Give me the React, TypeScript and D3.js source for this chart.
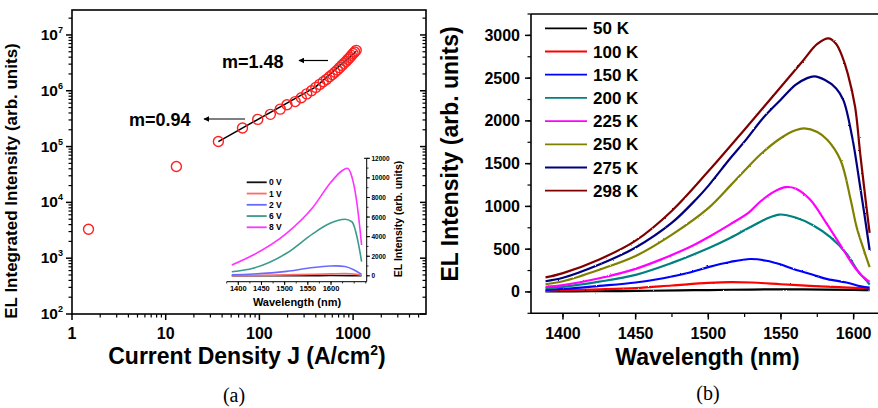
import React from "react";
import * as d3 from "d3";

// ---------- Panel (a): integrated EL vs current density ----------
const J_DENSITY = [1.5, 13, 36.5, 66, 96, 131, 167, 197, 241, 280, 320, 360, 400, 440, 480, 520, 560, 600, 640, 680, 720, 760, 800, 840, 880, 920, 960, 1000, 1040, 1080];
const EL_INTEGRATED = [3.3e3, 4.4e4, 1.23e5, 2.15e5, 3.07e5, 3.78e5, 4.69e5, 5.6e5, 6.4e5, 7.5e5, 8.8e5, 1.0e6, 1.15e6, 1.3e6, 1.45e6, 1.6e6, 1.78e6, 1.95e6, 2.15e6, 2.35e6, 2.6e6, 2.85e6, 3.1e6, 3.35e6, 3.65e6, 3.95e6, 4.3e6, 4.65e6, 4.95e6, 5.3e6];
// power-law fits (slopes 0.94 and 1.48), endpoints in data units
const FIT_LOW_J = [36.5, 396];
const FIT_LOW_I = [1.23e5, 1.16e6];
const FIT_HIGH_J = [396, 1080];
const FIT_HIGH_I = [1.16e6, 5.1e6];
const Y_DECADES = [2, 3, 4, 5, 6, 7];
const X_DECADES = [1, 10, 100, 1000];

// ---------- Inset: EL spectra at several biases ----------
const INSET_SERIES = [
  { label: "0 V", color: "#111111", w: [1386, 1450, 1500, 1560, 1600, 1640, 1666], v: [0, 5, 10, 20, 30, 25, 10] },
  { label: "1 V", color: "#ff6a6a", w: [1386, 1450, 1530, 1600, 1630, 1655, 1666], v: [20, 50, 120, 200, 230, 150, 60] },
  { label: "2 V", color: "#6a6aff", w: [1386, 1432, 1504, 1562, 1598, 1611, 1630, 1650, 1666], v: [100, 180, 450, 850, 1000, 1020, 950, 600, 150] },
  { label: "6 V", color: "#3a9a8c", w: [1386, 1432, 1504, 1562, 1598, 1630, 1645, 1659, 1666], v: [420, 770, 2300, 4340, 5360, 5770, 5520, 3320, 1440] },
  { label: "8 V", color: "#ff33ff", w: [1386, 1432, 1504, 1562, 1598, 1623, 1635, 1645, 1655, 1662, 1666], v: [1100, 2120, 4340, 7060, 9450, 10700, 10980, 10120, 7740, 5010, 3150] },
];
const INSET_X_TICKS = [1400, 1450, 1500, 1550, 1600];
const INSET_Y_TICKS = [0, 2000, 4000, 6000, 8000, 10000, 12000];

// ---------- Panel (b): EL spectra vs temperature ----------
const TEMP_SERIES = [
  { label: "50 K", color: "#000000", w: [1388, 1420, 1450, 1480, 1500, 1530, 1550, 1580, 1600, 1611], v: [5, 8, 12, 18, 22, 28, 30, 28, 25, 20] },
  { label: "100 K", color: "#ff0000", w: [1388, 1400, 1425, 1450, 1475, 1500, 1515, 1530, 1550, 1570, 1590, 1605, 1611], v: [10, 20, 30, 45, 75, 105, 115, 110, 90, 70, 55, 45, 40] },
  { label: "150 K", color: "#0000ff", w: [1388, 1400, 1425, 1450, 1469, 1488, 1500, 1515, 1529, 1540, 1550, 1559, 1572, 1582, 1595, 1605, 1611], v: [25, 35, 70, 110, 160, 230, 290, 350, 385, 365, 320, 265, 200, 150, 110, 65, 50] },
  { label: "200 K", color: "#008080", w: [1388, 1400, 1425, 1450, 1475, 1500, 1515, 1528, 1540, 1549, 1560, 1572, 1584, 1595, 1604, 1609, 1611], v: [45, 60, 120, 200, 340, 510, 630, 750, 855, 905, 870, 780, 640, 450, 220, 130, 85] },
  { label: "225 K", color: "#ff00ff", w: [1388, 1400, 1425, 1450, 1469, 1488, 1500, 1515, 1528, 1536, 1545, 1553, 1560, 1570, 1581, 1593, 1602, 1609, 1611], v: [60, 80, 160, 270, 390, 530, 640, 790, 930, 1060, 1170, 1225, 1210, 1080, 810, 490, 260, 140, 120] },
  { label: "250 K", color: "#808000", w: [1388, 1400, 1425, 1450, 1475, 1500, 1515, 1525, 1536, 1550, 1560, 1566, 1575, 1582, 1591, 1598, 1602, 1607, 1611], v: [90, 125, 260, 420, 670, 980, 1240, 1420, 1610, 1800, 1890, 1912, 1870, 1776, 1540, 1075, 763, 491, 290] },
  { label: "275 K", color: "#000080", w: [1388, 1400, 1425, 1450, 1475, 1492, 1500, 1515, 1525, 1538, 1550, 1560, 1568, 1573, 1580, 1588, 1593, 1599, 1604.5, 1608, 1611], v: [125, 165, 320, 520, 810, 1090, 1240, 1560, 1760, 2040, 2250, 2420, 2500, 2520, 2480, 2380, 2240, 1810, 1230, 840, 490] },
  { label: "298 K", color: "#800000", w: [1388, 1400, 1425, 1450, 1475, 1500, 1525, 1550, 1565, 1575, 1583, 1588, 1592, 1596, 1601, 1604.5, 1608, 1611], v: [170, 220, 380, 600, 950, 1410, 1900, 2400, 2700, 2900, 2965, 2900, 2760, 2550, 2165, 1620, 1110, 690] },
];
const B_X_TICKS = [1400, 1450, 1500, 1550, 1600];
const B_Y_TICKS = [0, 500, 1000, 1500, 2000, 2500, 3000];

const SANS = "'Liberation Sans', Arial, sans-serif";
const SERIF = "'Liberation Serif', 'Times New Roman', serif";

export default function App() {
  // panel (a) scales
  const xA = d3.scaleLog().domain([1, 6000]).range([72, 426]);
  const yA = d3.scaleLog().domain([100, 2.8e7]).range([314, 10]);
  // inset scales
  const xI = d3.scaleLinear().domain([1375, 1677]).range([226.7, 366.7]);
  const yI = d3.scaleLinear().domain([-600, 12000]).range([281.7, 158.3]);
  // panel (b) scales
  const xB = d3.scaleLinear().domain([1378, 1620]).range([531, 882.7]);
  const yB = d3.scaleLinear().domain([-250, 3250]).range([313.3, 14]);

  const minorA = (lo: number, hi: number) => {
    const out: number[] = [];
    for (let e = lo; e < hi; e++) for (let k = 2; k <= 9; k++) out.push(k * Math.pow(10, e));
    return out;
  };
  const xMinorA = minorA(0, 4).filter((v) => v < 6000);
  const yMinorA = minorA(2, 8).filter((v) => v <= 2.8e7);

  const fitLine = d3.line<[number, number]>().x((d) => xA(d[0])).y((d) => yA(d[1]));
  const insetLine = d3.line<[number, number]>().x((d) => xI(d[0])).y((d) => yI(d[1])).curve(d3.curveMonotoneX);
  const specLine = d3.line<[number, number]>().x((d) => xB(d[0])).y((d) => yB(d[1])).curve(d3.curveCatmullRom.alpha(0.5));

  const insetMinorX = d3.range(1375, 1677, 25);
  const insetMinorY = d3.range(0, 12001, 1000);
  const bMinorX = d3.range(1400, 1620, 25);
  const bMinorY = d3.range(-250, 3251, 250);

  return (
    <svg width={878} height={408} style={{ position: "absolute", left: 0, top: 0, background: "#fff" }} fontFamily={SANS}>
      <defs>
        <filter id="jitter" x="-5%" y="-5%" width="110%" height="110%">
          <feTurbulence type="fractalNoise" baseFrequency="0.6" numOctaves={1} seed={3} result="n" />
          <feDisplacementMap in="SourceGraphic" in2="n" scale={2} xChannelSelector="R" yChannelSelector="G" />
        </filter>
        <marker id="arrowHead" viewBox="0 0 10 10" refX="9" refY="5" markerWidth="5" markerHeight="5" orient="auto">
          <path d="M0,0 L10,5 L0,10 z" fill="#000" />
        </marker>
      </defs>

      {/* ===== Panel (a) ===== */}
      <rect x={72} y={10} width={354} height={304} fill="none" stroke="#000" strokeWidth={1.6} />
      {X_DECADES.map((v) => (
        <g key={"xa" + v}>
          <line x1={xA(v)} x2={xA(v)} y1={314} y2={320} stroke="#000" strokeWidth={1.5} />
          <text x={xA(v)} y={339} textAnchor="middle" fontSize={16} fontWeight="bold">{v}</text>
        </g>
      ))}
      {xMinorA.map((v, i) => (
        <line key={"xam" + i} x1={xA(v)} x2={xA(v)} y1={314} y2={317.5} stroke="#000" strokeWidth={1.2} />
      ))}
      {Y_DECADES.map((e) => {
        const y = yA(Math.pow(10, e));
        return (
          <g key={"ya" + e}>
            <line x1={66} x2={72} y1={y} y2={y} stroke="#000" strokeWidth={1.5} />
            <line x1={420} x2={426} y1={y} y2={y} stroke="#000" strokeWidth={1.5} />
            <text x={63} y={y + 5} textAnchor="end" fontSize={15.5} fontWeight="bold">
              10<tspan fontSize={9} dy={-7}>{e}</tspan>
            </text>
          </g>
        );
      })}
      {yMinorA.map((v, i) => (
        <g key={"yam" + i}>
          <line x1={68.5} x2={72} y1={yA(v)} y2={yA(v)} stroke="#000" strokeWidth={1.2} />
          <line x1={422.5} x2={426} y1={yA(v)} y2={yA(v)} stroke="#000" strokeWidth={1.2} />
        </g>
      ))}
      <text transform="translate(17,181) rotate(-90)" textAnchor="middle" fontSize={17} fontWeight="bold">
        EL Integrated Intensity (arb. units)
      </text>
      <text x={247} y={364} textAnchor="middle" fontSize={23} fontWeight="bold">
        Current Density J (A/cm<tspan fontSize={14} dy={-9}>2</tspan><tspan dy={9}>)</tspan>
      </text>

      <path d={fitLine(FIT_LOW_J.map((j, i) => [j, FIT_LOW_I[i]]) as [number, number][]) || ""} stroke="#000" strokeWidth={1.5} fill="none" />
      <path d={fitLine(FIT_HIGH_J.map((j, i) => [j, FIT_HIGH_I[i]]) as [number, number][]) || ""} stroke="#000" strokeWidth={1.5} fill="none" />
      {J_DENSITY.map((j, i) => (
        <circle key={"pt" + i} cx={xA(j)} cy={yA(EL_INTEGRATED[i])} r={5} fill="none" stroke="#ff2020" strokeWidth={1.4} />
      ))}
      <text x={222} y={68} fontSize={18} fontWeight="bold">m=1.48</text>
      <line x1={328} y1={60.5} x2={299} y2={60.5} stroke="#000" strokeWidth={1.2} markerEnd="url(#arrowHead)" />
      <text x={129} y={125.5} fontSize={18} fontWeight="bold">m=0.94</text>
      <line x1={245} y1={119} x2={204} y2={119} stroke="#000" strokeWidth={1.2} markerEnd="url(#arrowHead)" />

      {/* ===== Inset ===== */}
      <line x1={226.7} x2={366.7} y1={281.7} y2={281.7} stroke="#000" strokeWidth={1} />
      <line x1={366.7} x2={366.7} y1={158.3} y2={281.7} stroke="#000" strokeWidth={1} />
      {INSET_X_TICKS.map((v) => (
        <g key={"ix" + v}>
          <line x1={xI(v)} x2={xI(v)} y1={281.7} y2={285} stroke="#000" strokeWidth={1} />
          <text x={xI(v)} y={291} textAnchor="middle" fontSize={7.5} fontWeight="bold">{v}</text>
        </g>
      ))}
      {insetMinorX.map((v, i) => (
        <line key={"ixm" + i} x1={xI(v)} x2={xI(v)} y1={281.7} y2={283.5} stroke="#000" strokeWidth={0.8} />
      ))}
      {INSET_Y_TICKS.map((v) => (
        <g key={"iy" + v}>
          <line x1={366.7} x2={370} y1={yI(v)} y2={yI(v)} stroke="#000" strokeWidth={1} />
          <text x={371.5} y={yI(v) + 2.5} fontSize={6.5} fontWeight="bold">{v}</text>
        </g>
      ))}
      {insetMinorY.map((v, i) => (
        <line key={"iym" + i} x1={366.7} x2={368.5} y1={yI(v)} y2={yI(v)} stroke="#000" strokeWidth={0.8} />
      ))}
      <line x1={364} x2={366.7} y1={158.3} y2={158.3} stroke="#000" strokeWidth={1} />
      <text x={297} y={306} textAnchor="middle" fontSize={11} fontWeight="bold">Wavelength (nm)</text>
      <text transform="translate(402,219) rotate(-90)" textAnchor="middle" fontSize={10.5} fontWeight="bold">
        EL Intensity (arb. units)
      </text>
      {INSET_SERIES.map((s) => (
        <path key={"is" + s.label} d={insetLine(s.w.map((w, i) => [w, s.v[i]]) as [number, number][]) || ""} stroke={s.color} strokeWidth={1.6} fill="none" />
      ))}
      {INSET_SERIES.map((s, i) => {
        const y = 182.3 + i * 11.25;
        return (
          <g key={"il" + s.label}>
            <line x1={246.7} x2={266.7} y1={y} y2={y} stroke={s.color} strokeWidth={1.8} />
            <text x={269} y={y + 3} fontSize={8.5} fontWeight="bold">{s.label}</text>
          </g>
        );
      })}

      {/* ===== Panel (b) ===== */}
      <line x1={531} x2={880} y1={14} y2={14} stroke="#000" strokeWidth={1.6} />
      <line x1={531} x2={880} y1={313.3} y2={313.3} stroke="#000" strokeWidth={1.6} />
      <line x1={531} x2={531} y1={14} y2={313.3} stroke="#000" strokeWidth={1.6} />
      {B_X_TICKS.map((v) => (
        <g key={"bx" + v}>
          <line x1={xB(v)} x2={xB(v)} y1={313.3} y2={319.5} stroke="#000" strokeWidth={1.5} />
          <text x={xB(v)} y={339} textAnchor="middle" fontSize={16} fontWeight="bold">{v}</text>
        </g>
      ))}
      {bMinorX.map((v, i) => (
        <line key={"bxm" + i} x1={xB(v)} x2={xB(v)} y1={313.3} y2={317} stroke="#000" strokeWidth={1.2} />
      ))}
      {B_Y_TICKS.map((v) => (
        <g key={"by" + v}>
          <line x1={525} x2={531} y1={yB(v)} y2={yB(v)} stroke="#000" strokeWidth={1.5} />
          <text x={520} y={yB(v) + 5.5} textAnchor="end" fontSize={16} fontWeight="bold">{v}</text>
        </g>
      ))}
      {bMinorY.map((v, i) => (
        <line key={"bym" + i} x1={527.5} x2={531} y1={yB(v)} y2={yB(v)} stroke="#000" strokeWidth={1.2} />
      ))}
      <text transform="translate(458,154) rotate(-90)" textAnchor="middle" fontSize={23} fontWeight="bold">
        EL Intensity (arb. units)
      </text>
      <text x={707.5} y={365} textAnchor="middle" fontSize={23} fontWeight="bold">Wavelength (nm)</text>

      <g filter="url(#jitter)">
        {TEMP_SERIES.map((s) => (
          <path key={"ts" + s.label} d={specLine(s.w.map((w, i) => [w, s.v[i]]) as [number, number][]) || ""} stroke={s.color} strokeWidth={2.2} fill="none" />
        ))}
      </g>
      {TEMP_SERIES.map((s, i) => {
        const y = 28.3 + i * 23.2;
        return (
          <g key={"tl" + s.label}>
            <line x1={545} x2={587} y1={y} y2={y} stroke={s.color} strokeWidth={1.8} />
            <text x={593} y={y + 6} fontSize={17} fontWeight="bold">{s.label}</text>
          </g>
        );
      })}

      <text x={234} y={402} textAnchor="middle" fontSize={20} fontFamily={SERIF}>(a)</text>
      <text x={708} y={400} textAnchor="middle" fontSize={20} fontFamily={SERIF}>(b)</text>
    </svg>
  );
}
